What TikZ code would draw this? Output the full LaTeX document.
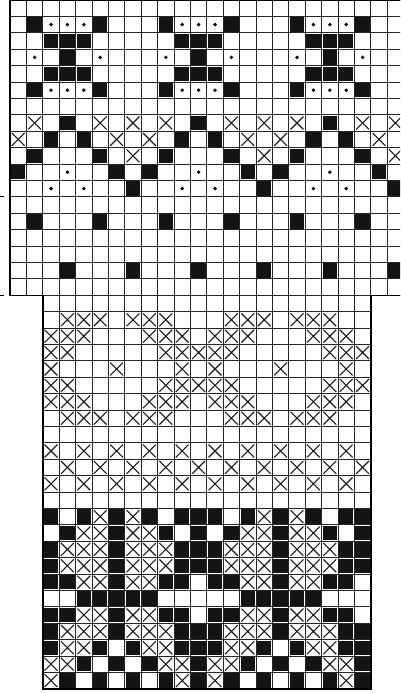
\documentclass[tikz,border=0pt]{standalone}
\begin{document}
\begin{tikzpicture}[x=1pt,y=-1pt,
  gridline/.style={line width=0.8pt, draw=black!85},
  border/.style={line width=1.4pt, draw=black},
  xline/.style={line width=1.1pt, draw=black!90},
  tick/.style={line width=0.9pt, draw=black}]
\def\cs{16.4}
\newcommand\cellB[2]{\fill[black!92] ({10+(#1)*\cs+1.0},{(#2)*\cs+1.0}) rectangle ++(14.4,14.4);}
\newcommand\cellX[2]{\draw[xline] ({10+(#1)*\cs+1.8},{(#2)*\cs+1.8}) -- ++(12.8,12.8) ({10+(#1)*\cs+14.6},{(#2)*\cs+1.8}) -- ++(-12.8,12.8);}
\newcommand\cellD[2]{\fill ({10+(#1)*\cs+8.2},{(#2)*\cs+8.2}) circle (1.9pt);}
\useasboundingbox (0,0) rectangle (400,693);
\begin{scope}
\clip (0,0) rectangle (400,693);
% ---------- top section ----------
\foreach \o in {0,8,16}{
  \foreach \c in {1,5}{\cellB{\o+\c}{1}\cellB{\o+\c}{5}\cellD{\o+\c}{3}\cellB{\o+\c}{9}}
  \foreach \c in {2,3,4}{\cellD{\o+\c}{1}\cellD{\o+\c}{5}\cellB{\o+\c}{2}\cellB{\o+\c}{4}}
  \cellB{\o+3}{3}
  \foreach \c in {1,5,7}{\cellX{\o+\c}{7}}
  \cellB{\o+3}{7}
  \foreach \c in {0,6}{\cellX{\o+\c}{8}\cellB{\o+\c}{10}}
  \foreach \c in {2,4}{\cellB{\o+\c}{8}\cellD{\o+\c}{11}}
  \cellX{\o+7}{9}
  \cellD{\o+3}{10}
  \cellB{\o+7}{11}
}
\foreach \c in {1,5,...,21}{\cellB{\c}{13}}
\foreach \c in {3,7,...,23}{\cellB{\c}{16}}
% ---------- bottom section ----------
\foreach \o in {2,12}{
  \foreach \b in {1,2,3,5,6,7}{\cellX{\o+\b}{19}\cellX{\o+\b}{25}}
  \foreach \b in {0,1,2,6,7,8}{\cellX{\o+\b}{20}\cellX{\o+\b}{24}}
  \foreach \b in {0,1,7,8,9}{\cellX{\o+\b}{21}\cellX{\o+\b}{23}}
  \foreach \b in {0,4,8}{\cellX{\o+\b}{22}}
  \foreach \b in {0,2,4,6,8}{\cellX{\o+\b}{27}\cellX{\o+\b}{29}}
  \foreach \b in {1,3,5,7,9}{\cellX{\o+\b}{28}}
  \foreach \b in {0,2,4,6,8,9}{\cellB{\o+\b}{31}}
  \foreach \b in {3,5}{\cellX{\o+\b}{31}}
  \foreach \b in {1,4,7,9}{\cellB{\o+\b}{32}}
  \foreach \b in {2,3,5,6}{\cellX{\o+\b}{32}}
  \foreach \r in {33,34,38}{
    \foreach \b in {0,4,8,9}{\cellB{\o+\b}{\r}}
    \foreach \b in {1,2,3,5,6,7}{\cellX{\o+\b}{\r}}}
  \foreach \r in {35,37}{
    \foreach \b in {0,1,4,7,8}{\cellB{\o+\b}{\r}}
    \foreach \b in {2,3,5,6}{\cellX{\o+\b}{\r}}}
  \foreach \b in {2,...,6}{\cellB{\o+\b}{36}}
  \foreach \b in {0,3,5,8,9}{\cellB{\o+\b}{39}}
  \foreach \b in {1,2,6,7}{\cellX{\o+\b}{39}}
  \foreach \b in {0,1,7,8}{\cellX{\o+\b}{40}}
  \foreach \b in {2,4,6,9}{\cellB{\o+\b}{40}}
  \foreach \b in {0,8}{\cellX{\o+\b}{41}}
  \foreach \b in {1,3,5,7,9}{\cellB{\o+\b}{41}}
}
% ---------- grid ----------
\foreach \i in {0,...,24} \draw[gridline] ({10+\i*\cs},0) -- ({10+\i*\cs},{18*\cs});
\foreach \j in {0,...,18} \draw[gridline] (10,{\j*\cs}) -- ({10+24*\cs},{\j*\cs});
\foreach \i in {2,...,22} \draw[gridline] ({10+\i*\cs},{18*\cs}) -- ({10+\i*\cs},{42*\cs});
\foreach \j in {18,...,42} \draw[gridline] ({10+2*\cs},{\j*\cs}) -- ({10+22*\cs},{\j*\cs});
\draw[border] ({10+24*\cs},0) -- (10,0) -- (10,{18*\cs}) -- ({10+2*\cs},{18*\cs})
  -- ({10+2*\cs},{42*\cs}) -- ({10+22*\cs},{42*\cs}) -- ({10+22*\cs},{18*\cs}) -- ({10+24*\cs},{18*\cs});
\draw[tick] (0,{12*\cs}) -- (4,{12*\cs});
\draw[tick] (0,{18*\cs}) -- (4,{18*\cs});
\end{scope}
\end{tikzpicture}
\end{document}
